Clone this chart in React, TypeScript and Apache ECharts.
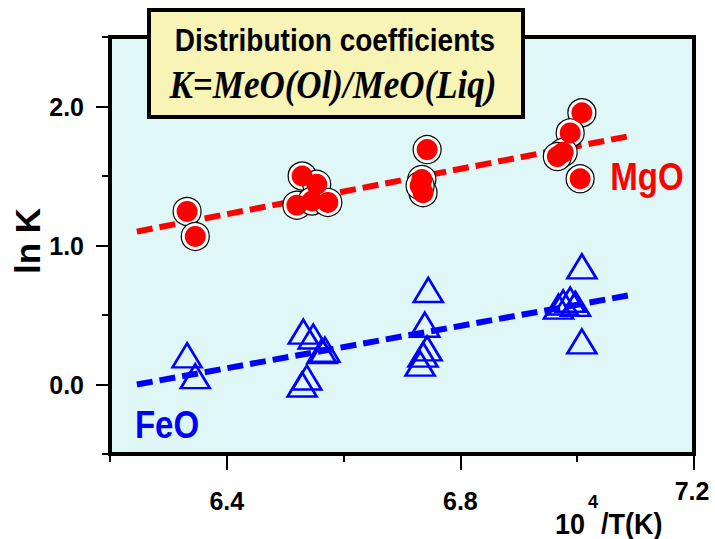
import React, { useEffect, useRef } from "react";
import * as echarts from "echarts";

// Olivine/liquid partition data: x = 10^4/T(K), y = ln K
const mgoX = [6.332, 6.346, 6.529, 6.554, 6.52, 6.546, 6.573, 6.743, 6.734, 6.736, 6.731, 7.008, 6.988, 6.976, 6.966, 7.005];
const mgoY = [1.245, 1.065, 1.5, 1.44, 1.29, 1.32, 1.31, 1.69, 1.475, 1.38, 1.43, 1.955, 1.81, 1.67, 1.64, 1.48];

const feoX = [6.332, 6.346, 6.531, 6.548, 6.568, 6.563, 6.537, 6.529, 6.745, 6.739, 6.743, 6.736, 6.731, 6.976, 6.988, 6.997, 6.968, 7.008, 7.008];
const feoY = [0.21, 0.06, 0.38, 0.345, 0.25, 0.24, 0.05, 0.0, 0.68, 0.43, 0.26, 0.215, 0.15, 0.59, 0.61, 0.58, 0.56, 0.85, 0.31];

// Linear fits (end points)
const mgoFitX = [6.246, 7.087];
const mgoFitY = [1.1, 1.785];
const feoFitX = [6.246, 7.087];
const feoFitY = [0.0, 0.64];

const xMajorTicks = [6.4, 6.8, 7.2];
const xMinorTicks = [6.2, 6.6, 7.0];
const xTickLabels = [6.4, 6.8];
const yMajorTicks = [0, 1, 2];
const yMinorTicks = [-0.5, 0.5, 1.5, 2.5];

const SANS = "'Liberation Sans', Arial, Helvetica, sans-serif";
const SERIF = "'Liberation Serif', 'Times New Roman', serif";

const zip = (xs: number[], ys: number[]) => xs.map((x, i) => [x, ys[i]]);

const label = (text: string, x: number, y: number, size: number, fill: string, extra: any = {}) => ({
  type: "text",
  x,
  y,
  z: 101,
  ...extra,
  style: {
    text,
    fontFamily: SANS,
    fontWeight: "bold",
    fontSize: size,
    fill,
    align: "center",
    verticalAlign: "middle",
    ...(extra.style || {}),
  },
});

export default function App() {
  const ref = useRef<HTMLDivElement>(null);

  useEffect(() => {
    if (!ref.current) return;
    const chart = echarts.init(ref.current, undefined, { renderer: "svg" });

    const baseX = {
      type: "value" as const,
      min: 6.2,
      max: 7.2,
      interval: 0.2,
      position: "bottom" as const,
      splitLine: { show: false },
    };
    const baseY = {
      type: "value" as const,
      min: -0.5,
      max: 2.5,
      interval: 0.5,
      position: "left" as const,
      splitLine: { show: false },
    };

    chart.setOption({
      animation: false,
      backgroundColor: "#ffffff",
      grid: {
        left: 110,
        top: 37,
        width: 584,
        height: 417,
        show: true,
        backgroundColor: "#dff7f7",
        borderColor: "#000000",
        borderWidth: 4,
      },
      xAxis: [
        {
          ...baseX,
          axisLine: { show: true, onZero: false, lineStyle: { color: "#000", width: 3 } },
          axisTick: { show: true, customValues: xMajorTicks, length: 16, lineStyle: { color: "#000", width: 2 } },
          axisLabel: {
            show: true,
            customValues: xTickLabels,
            margin: 34,
            formatter: (v: number) => v.toFixed(1),
            fontFamily: SANS,
            fontWeight: "bold",
            fontSize: 25,
            color: "#000",
          },
        },
        {
          ...baseX,
          axisLine: { show: false, onZero: false },
          axisTick: { show: true, customValues: xMinorTicks, length: 8, lineStyle: { color: "#000", width: 2 } },
          axisLabel: { show: false },
        },
      ],
      yAxis: [
        {
          ...baseY,
          axisLine: { show: true, onZero: false, lineStyle: { color: "#000", width: 3 } },
          axisTick: { show: true, customValues: yMajorTicks, length: 14, lineStyle: { color: "#000", width: 2 } },
          axisLabel: {
            show: true,
            customValues: yMajorTicks,
            margin: 26,
            formatter: (v: number) => v.toFixed(1),
            fontFamily: SANS,
            fontWeight: "bold",
            fontSize: 25,
            color: "#000",
          },
        },
        {
          ...baseY,
          axisLine: { show: false, onZero: false },
          axisTick: { show: true, customValues: yMinorTicks, length: 8, lineStyle: { color: "#000", width: 2 } },
          axisLabel: { show: false },
        },
      ],
      series: [
        {
          type: "line",
          data: zip(mgoFitX, mgoFitY),
          symbol: "none",
          lineStyle: { color: "#ff0000", width: 6, type: [16, 7] },
          z: 2,
        },
        {
          type: "line",
          data: zip(feoFitX, feoFitY),
          symbol: "none",
          lineStyle: { color: "#0000ff", width: 6, type: [16, 7] },
          z: 2,
        },
        {
          type: "scatter",
          data: zip(mgoX, mgoY),
          symbol: "circle",
          symbolSize: 28,
          itemStyle: { color: "#ffffff", borderColor: "#000000", borderWidth: 1.2, opacity: 1 },
          z: 3,
        },
        {
          type: "scatter",
          data: zip(mgoX, mgoY),
          symbol: "circle",
          symbolSize: 21,
          itemStyle: { color: "#ff0000", opacity: 1 },
          z: 4,
        },
        {
          type: "scatter",
          data: zip(feoX, feoY),
          symbol: "triangle",
          symbolSize: [29, 24],
          itemStyle: { color: "rgba(0,0,0,0)", borderColor: "#0000ff", borderWidth: 2.6, opacity: 1 },
          z: 4,
        },
      ],
      graphic: [
        {
          type: "rect",
          shape: { x: 149, y: 10, width: 374, height: 107 },
          style: { fill: "#f8f4b6", stroke: "#000000", lineWidth: 4 },
          z: 100,
        },
        label("Distribution coefficients", 335, 40, 28, "#000", { scaleY: 1.1 }),
        {
          type: "text",
          x: 333,
          y: 84,
          scaleY: 1.17,
          z: 101,
          style: {
            text: "K=MeO(Ol)/MeO(Liq)",
            fontFamily: SERIF,
            fontWeight: "bold",
            fontStyle: "italic",
            fontSize: 35,
            fill: "#000",
            align: "center",
            verticalAlign: "middle",
          },
        },
        label("ln K", 27, 241, 35, "#000", { rotation: Math.PI / 2 }),
        label("MgO", 647, 177, 33, "#ff0000", { scaleY: 1.15 }),
        label("FeO", 167, 425, 33, "#0000ff", { scaleY: 1.15 }),
        label("7.2", 692, 491, 25, "#000"),
        label("10", 555, 524, 27, "#000", { style: { align: "left" }, scaleY: 1.08 }),
        label("4", 588, 502, 18, "#000", { style: { align: "left" } }),
        label("/T(K)", 601, 524, 27, "#000", { style: { align: "left" }, scaleY: 1.08 }),
      ],
    });

    return () => chart.dispose();
  }, []);

  return (
    <div
      ref={ref}
      style={{ position: "fixed", left: 0, top: 0, width: 715, height: 539, background: "#fff" }}
    />
  );
}
